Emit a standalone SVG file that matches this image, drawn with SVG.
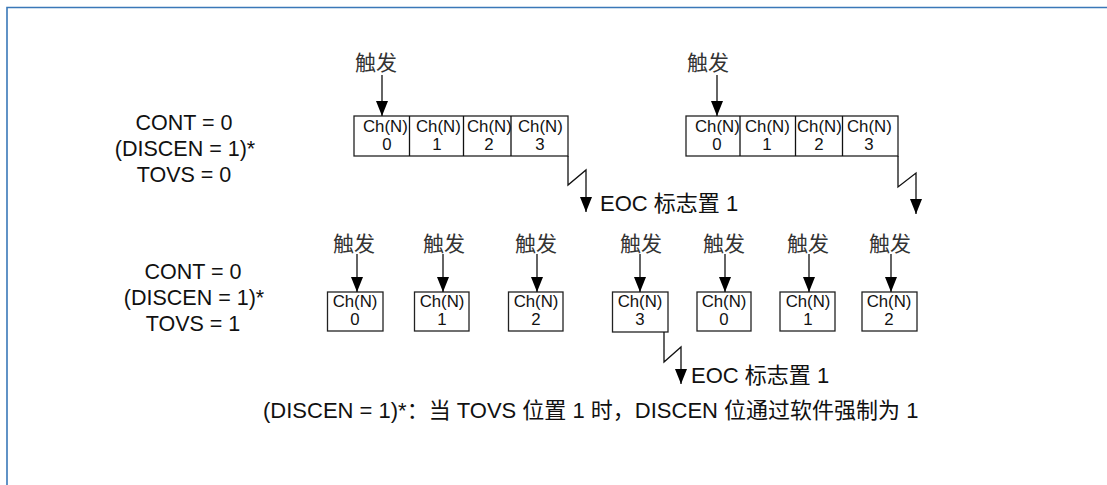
<svg xmlns="http://www.w3.org/2000/svg" width="1107" height="485" viewBox="0 0 1107 485">
<style>
.t{font-family:"Liberation Sans","Noto Sans CJK SC",sans-serif;fill:#111}
.lb{font-size:21.5px;text-anchor:middle}
.cj{font-family:"Noto Sans CJK SC","Liberation Sans",sans-serif;font-size:21px;fill:#333;text-anchor:middle}
.ch{font-size:16.8px}
.chm{font-size:16.8px;text-anchor:middle}
.lg{font-size:22px}
.bx{fill:#fff;stroke:#222;stroke-width:1.3}
.ln{fill:none;stroke:#111;stroke-width:1.3}
.ar{fill:none;stroke:#111;stroke-width:1.3;marker-end:url(#ah)}
</style>
<defs>
<marker id="ah" viewBox="0 0 15 12" refX="15" refY="6" markerWidth="15" markerHeight="12" markerUnits="userSpaceOnUse" orient="auto">
<path d="M0,0 L15,6 L0,12 z" fill="#000"/>
</marker>
</defs>
<rect width="1107" height="485" fill="#fff"/>
<path d="M7,485 V7.5 H1107" fill="none" stroke="#3a78b8" stroke-width="1.6"/>

<g id="label-row1">
<text class="t lb" x="184" y="130">CONT = 0</text>
<text class="t lb" x="185" y="156">(DISCEN = 1)*</text>
<text class="t lb" x="184" y="182">TOVS = 0</text>
</g>
<g id="label-row2">
<text class="t lb" x="193" y="279">CONT = 0</text>
<text class="t lb" x="194" y="305">(DISCEN = 1)*</text>
<text class="t lb" x="193" y="331">TOVS = 1</text>
</g>

<g id="trig-1a"><text class="cj" x="376" y="70">触发</text></g>
<g id="trig-1b"><text class="cj" x="708" y="70">触发</text></g>

<g id="seq-1a">
<rect class="bx" x="354" y="116" width="214" height="40"/>
<path class="ln" d="M409.5,116 V156 M463.5,116 V156 M511,116 V156"/>
<text class="t ch" x="363" y="132">Ch(N)</text>
<text class="t ch" x="416" y="132">Ch(N)</text>
<text class="t ch" x="467" y="132">Ch(N)</text>
<text class="t ch" x="518" y="132">Ch(N)</text>
<text class="t chm" x="387" y="150">0</text>
<text class="t chm" x="437" y="150">1</text>
<text class="t chm" x="489" y="150">2</text>
<text class="t chm" x="540" y="150">3</text>
</g>
<g id="seq-1b">
<rect class="bx" x="686" y="116" width="212" height="40"/>
<path class="ln" d="M740,116 V156 M795.5,116 V156 M842.5,116 V156"/>
<text class="t ch" x="695" y="132">Ch(N)</text>
<text class="t ch" x="745" y="132">Ch(N)</text>
<text class="t ch" x="797" y="132">Ch(N)</text>
<text class="t ch" x="847" y="132">Ch(N)</text>
<text class="t chm" x="717" y="150">0</text>
<text class="t chm" x="767" y="150">1</text>
<text class="t chm" x="819" y="150">2</text>
<text class="t chm" x="869" y="150">3</text>
</g>
<g id="eoc-1"><text class="t lg" x="600" y="211">EOC 标志置 1</text></g>

<g id="trig-2-0"><text class="cj" x="354" y="251">触发</text></g>
<g id="trig-2-1"><text class="cj" x="444" y="251">触发</text></g>
<g id="trig-2-2"><text class="cj" x="536" y="251">触发</text></g>
<g id="trig-2-3"><text class="cj" x="641" y="251">触发</text></g>
<g id="trig-2-4"><text class="cj" x="724" y="251">触发</text></g>
<g id="trig-2-5"><text class="cj" x="808" y="251">触发</text></g>
<g id="trig-2-6"><text class="cj" x="890" y="251">触发</text></g>

<g id="conv-2-0"><rect class="bx" x="327.5" y="292" width="55.5" height="39"/><text class="t chm" x="355" y="307">Ch(N)</text><text class="t chm" x="355" y="325">0</text></g>
<g id="conv-2-1"><rect class="bx" x="414.5" y="292" width="54.5" height="39"/><text class="t chm" x="442" y="307">Ch(N)</text><text class="t chm" x="442" y="325">1</text></g>
<g id="conv-2-2"><rect class="bx" x="508.5" y="292" width="54.5" height="39"/><text class="t chm" x="536" y="307">Ch(N)</text><text class="t chm" x="536" y="325">2</text></g>
<g id="conv-2-3"><rect class="bx" x="612.5" y="292" width="55.5" height="40"/><text class="t chm" x="640" y="307">Ch(N)</text><text class="t chm" x="640" y="325">3</text></g>
<g id="conv-2-4"><rect class="bx" x="697" y="292" width="54" height="39"/><text class="t chm" x="724" y="307">Ch(N)</text><text class="t chm" x="724" y="325">0</text></g>
<g id="conv-2-5"><rect class="bx" x="780" y="292" width="55" height="39"/><text class="t chm" x="808" y="307">Ch(N)</text><text class="t chm" x="808" y="325">1</text></g>
<g id="conv-2-6"><rect class="bx" x="862" y="292" width="55" height="39"/><text class="t chm" x="889" y="307">Ch(N)</text><text class="t chm" x="889" y="325">2</text></g>
<g id="eoc-2"><text class="t lg" x="691" y="383">EOC 标志置 1</text></g>

<g id="connectors">
<path class="ar" d="M382,75 V116"/>
<path class="ar" d="M717,75 V116"/>
<path class="ar" d="M568,156 V185 L586,170 V212"/>
<path class="ar" d="M898,156 V187 L916,173 V214"/>
<path class="ar" d="M357,254 V292"/>
<path class="ar" d="M443,254 V292"/>
<path class="ar" d="M537,254 V292"/>
<path class="ar" d="M640,254 V292"/>
<path class="ar" d="M725,254 V292"/>
<path class="ar" d="M809,254 V292"/>
<path class="ar" d="M891,254 V292"/>
<path class="ar" d="M664,332 V362 L681,347 V384"/>
</g>

<g id="footnote"><text class="t" x="263" y="418" style="font-size:22px">(DISCEN = 1)*：当 TOVS 位置 1 时，DISCEN 位通过软件强制为 1</text></g>
</svg>
